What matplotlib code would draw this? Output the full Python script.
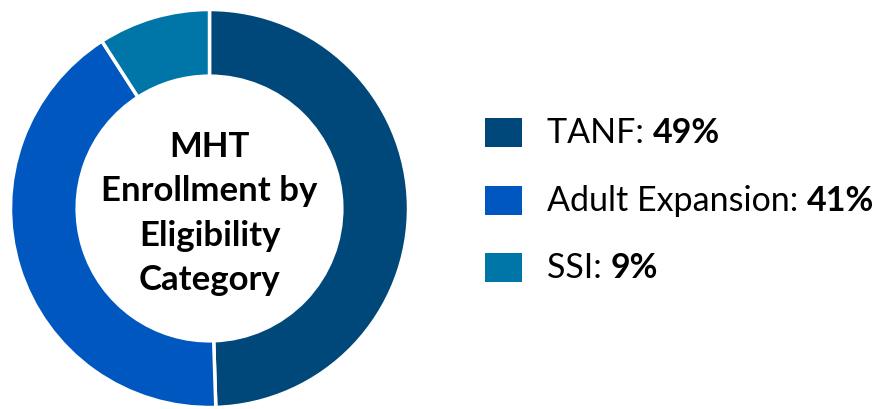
import matplotlib.pyplot as plt

categories = ['TANF', 'Adult Expansion', 'SSI']
shares = [49, 41, 9]
colors = ['#00477A', '#0057C0', '#0076A8']
center_title = 'MHT\nEnrollment by\nEligibility\nCategory'

plt.rcParams['font.family'] = ['Lato', 'DejaVu Sans']

W, H = 877, 410
fig = plt.figure(figsize=(W / 100, H / 100), dpi=100)

# donut in pixel-ish placement
cx, cy, r = 209.5, 410 - 209.5, 199
ax = fig.add_axes([(cx - r) / W, (cy - r) / H, 2 * r / W, 2 * r / H])
ax.pie(shares, colors=colors, startangle=90, counterclock=False,
       radius=1, wedgeprops=dict(width=0.335, edgecolor='white', linewidth=2.5))
ax.set_xlim(-1, 1)
ax.set_ylim(-1, 1)
ax.set_aspect('equal')
ax.axis('off')
ax.text(0, -0.02, center_title, ha='center', va='center', fontsize=25,
        fontweight='bold', linespacing=1.47, color='black')

# legend built by hand so the value can be bold
sq_w, sq_h = 37, 29
row_y = [133.5, 201, 268]
for name, val, col, y in zip(categories, shares, colors, row_y):
    yb = H - y
    fig.add_artist(plt.Rectangle(((485) / W, (yb - sq_h / 2) / H), sq_w / W, sq_h / H,
                                 facecolor=col, edgecolor='none',
                                 transform=fig.transFigure))
    t = fig.text(547 / W, (yb - 10) / H, name + ': ', fontsize=24.5,
                 va='baseline', ha='left')
    fig.canvas.draw()
    ax.annotate(f'{val}%', xy=(1, 0), xycoords=t, va='bottom', ha='left',
                fontsize=24.5, fontweight='bold', annotation_clip=False)

fig.savefig('out.png', dpi=100)
